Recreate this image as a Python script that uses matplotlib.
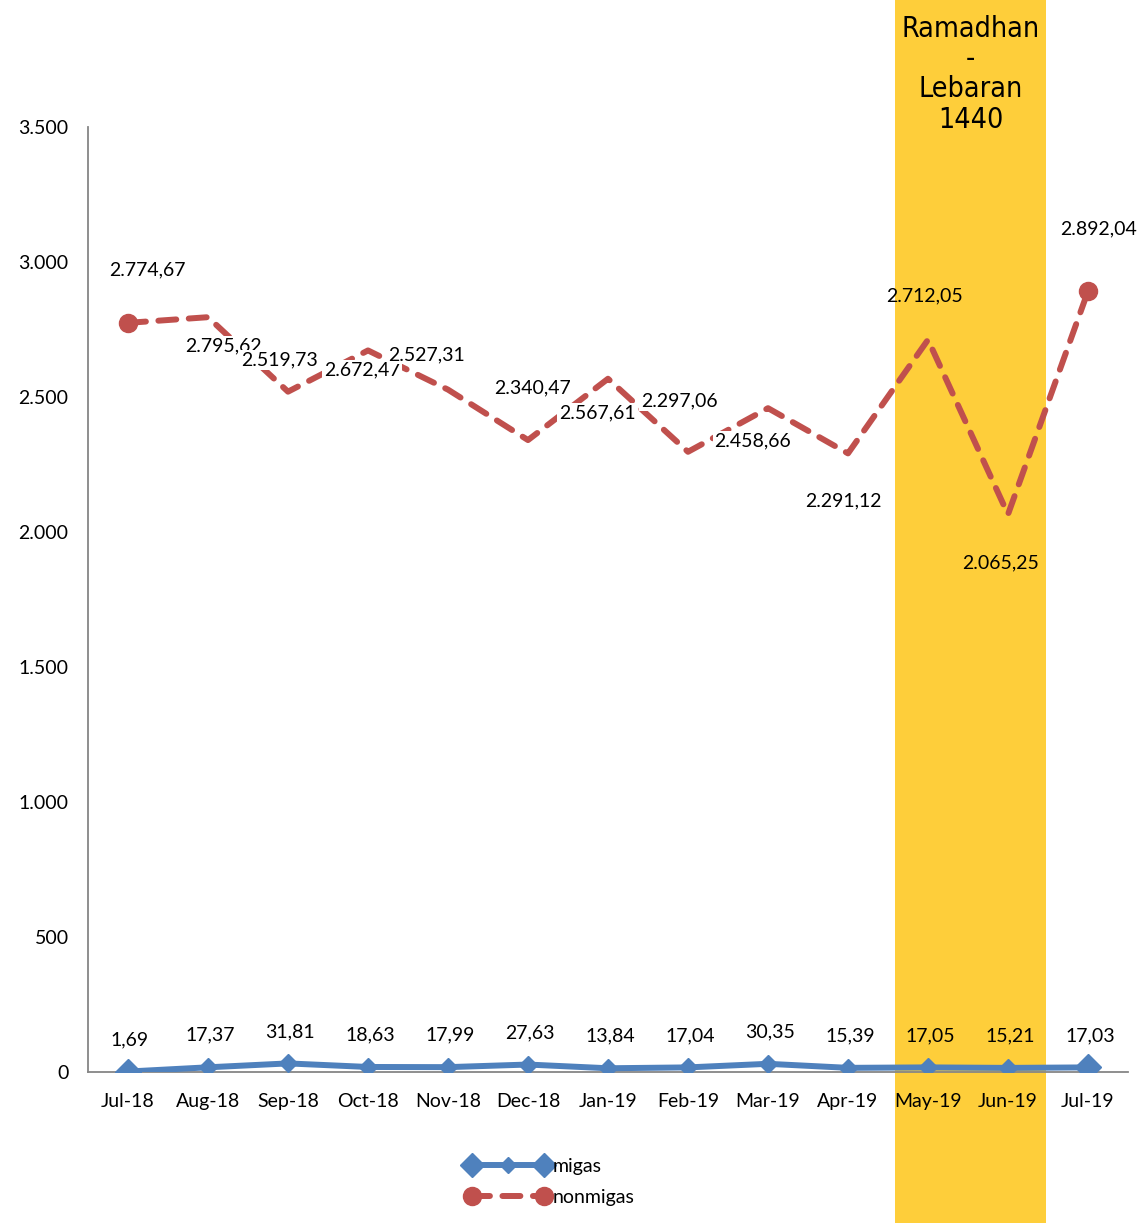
import matplotlib
matplotlib.use("Agg")
import matplotlib.pyplot as plt
import matplotlib.transforms as mtransforms
from matplotlib.lines import Line2D
from matplotlib.legend_handler import HandlerLine2D, HandlerTuple

# ---------------- data ----------------
months = ["Jul-18", "Aug-18", "Sep-18", "Oct-18", "Nov-18", "Dec-18", "Jan-19",
          "Feb-19", "Mar-19", "Apr-19", "May-19", "Jun-19", "Jul-19"]
migas = [1.69, 17.37, 31.81, 18.63, 17.99, 27.63, 13.84, 17.04, 30.35, 15.39,
         17.05, 15.21, 17.03]
nonmigas = [2774.67, 2795.62, 2519.73, 2672.47, 2527.31, 2340.47, 2567.61,
            2297.06, 2458.66, 2291.12, 2712.05, 2065.25, 2892.04]
yticks = [0, 500, 1000, 1500, 2000, 2500, 3000, 3500]
ytick_labels = ["0", "500", "1.000", "1.500", "2.000", "2.500", "3.000", "3.500"]
band_start, band_end = 9.59, 11.475
band_text = "Ramadhan\n-\nLebaran\n1440"

# label offsets (pixels) for nonmigas labels, mimicking the original placement
non_off = [(19, 53), (15, -29), (-8, 32), (-6, -19), (-21, 35), (5, 52), (-11, -34),
           (-9, 51), (-15, -33), (-5, -47), (-3, 44), (-7, -48), (11, 62)]


def fmt(v):
    s = f"{v:,.2f}"
    return s.replace(",", "X").replace(".", ",").replace("X", ".")


BLUE = "#4F81BD"
RED = "#C0504D"
YELLOW = "#FECE3A"
FONT = ["Lato", "DejaVu Sans"]
FS = 14

plt.rcParams["font.family"] = FONT

fig = plt.figure(figsize=(11.41, 12.23), dpi=100)
ax = fig.add_axes([88 / 1141, 1 - 1072 / 1223, 1040 / 1141, 945 / 1223])

x = list(range(len(months)))

# band
ax.axvspan(band_start, band_end, ymin=-0.2, ymax=1.2, color=YELLOW, zorder=0,
           clip_on=False, lw=0)
trans = mtransforms.blended_transform_factory(ax.transData, fig.transFigure)
ax.text((band_start + band_end) / 2, 1 - 15 / 1223, band_text, transform=trans,
        ha="center", va="top", fontsize=20.5, family="DejaVu Sans",
        fontstretch="condensed", linespacing=1.1, color="black")

# lines
ax.plot(x, migas, color=BLUE, lw=4.3, marker="D", markersize=9,
        markeredgecolor=BLUE, zorder=4, solid_capstyle="round")
ax.plot(x, migas, color=BLUE, lw=0, marker="D", markersize=13,
        markevery=[0, len(x) - 1], zorder=4)
ax.plot(x, nonmigas, color=RED, lw=4.3, dashes=(3.0, 2.1), dash_capstyle="round",
        marker="o", markersize=13, markevery=[0, len(x) - 1], zorder=4)

# labels
for i, v in enumerate(migas):
    ax.annotate(fmt(v), (i, v), xytext=(2, 32), textcoords="offset pixels",
                ha="center", va="center", fontsize=FS, zorder=6)
for i, v in enumerate(nonmigas):
    inband = band_start <= i <= band_end
    bbox = None if inband else dict(facecolor="white", edgecolor="none", pad=1)
    dx, dy = non_off[i]
    ax.annotate(fmt(v), (i, v), xytext=(dx, dy), textcoords="offset pixels",
                ha="center", va="center", fontsize=FS, zorder=6, bbox=bbox)

# axes styling
ax.set_xlim(-0.5, len(x) - 0.5)
ax.set_ylim(0, 3500)
ax.set_xticks(x)
ax.set_xticklabels(months, fontsize=FS)
ax.set_yticks(yticks)
ax.set_yticklabels(ytick_labels, fontsize=FS)
ax.tick_params(axis="both", length=0)
ax.tick_params(axis="x", pad=15)
ax.tick_params(axis="y", pad=14)
for s in ["top", "right"]:
    ax.spines[s].set_visible(False)
for s in ["left", "bottom"]:
    ax.spines[s].set_color("#868686")
    ax.spines[s].set_linewidth(1.3)
ax.patch.set_alpha(0)

# legend
h_mig_big = Line2D([], [], color=BLUE, lw=4.3, marker="D", markersize=12)
h_mig_small = Line2D([], [], color=BLUE, lw=0, marker="D", markersize=8)
h_non = Line2D([], [], color=RED, lw=4.3, dashes=(3.0, 2.1), dash_capstyle="round",
               marker="o", markersize=13)
fig.legend([(h_mig_big, h_mig_small), h_non], ["migas", "nonmigas"],
           handler_map={h_mig_small: HandlerLine2D(numpoints=1),
                        tuple: HandlerTuple(ndivide=1, pad=0)},
           loc="center left", bbox_to_anchor=(466 / 1141, 1 - 1182 / 1223),
           frameon=False, fontsize=FS, numpoints=2, handlelength=4.3,
           handletextpad=0.15, labelspacing=0.75, borderpad=0, borderaxespad=0)

fig.savefig("out.png", dpi=100)
